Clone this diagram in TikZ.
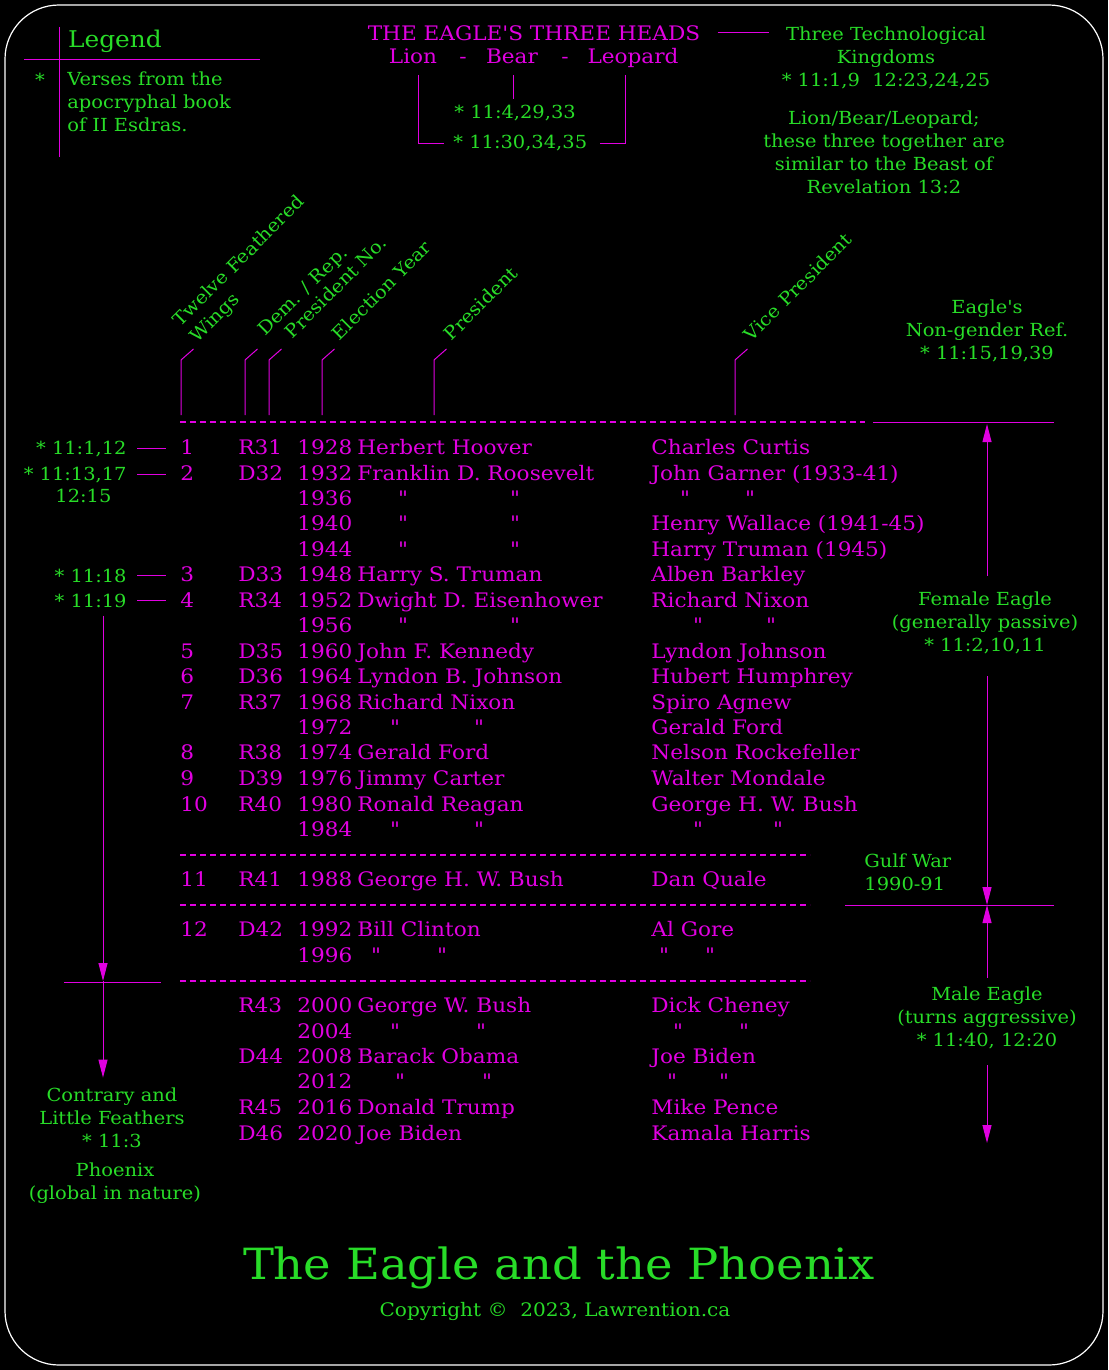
\documentclass[tikz,border=0pt]{standalone}
\usepackage{fontspec}
\setmainfont{DejaVu Serif}[Ligatures=TeXOff, FakeStretch=1.08]
\usetikzlibrary{arrows.meta}
\definecolor{eaglemag}{RGB}{225,0,225}
\definecolor{eaglegrn}{RGB}{40,220,40}

\begin{document}
\begin{tikzpicture}[x=0.5pt, y=-0.5pt,
  mag/.style={text=eaglemag, inner sep=0pt, font=\fontsize{10}{11.5}\selectfont},
  grn/.style={text=eaglegrn, inner sep=0pt, font=\fontsize{9}{11.5}\selectfont},
  lead/.style={draw=eaglemag, line width=0.5pt},
  rowline/.style={draw=eaglemag, line width=0.9pt, dash pattern=on 3.2pt off 1.8pt},
  pointer/.style={lead, -{Triangle[length=9pt, width=4.5pt]}},
  colhead/.style={grn, rotate=45, anchor=south west, align=left},
]
  \useasboundingbox (0,0) rectangle (1108,1370);
  \fill[black] (0,0) rectangle (1108,1370);
  \draw[white, line width=0.6pt, rounded corners=27pt] (5,5) rectangle (1103,1365);

  % legend
  \draw[lead] (59,27) -- (59,157);
  \draw[lead] (24,60) -- (260,60);
  \node[grn, font=\fontsize{11.5}{14}\selectfont] (legend) at (115,41) {Legend};
  \node[grn] (star) at (40,80) {*};
  \node[grn, align=left, anchor=west] (verses) at (67,102) {Verses from the\\apocryphal book\\of II Esdras.};

  % the three heads
  \node[mag] (heads) at (534,33) {THE EAGLE'S THREE HEADS};
  \node[mag, anchor=base] (lion) at (413,64) {Lion};
  \node[mag, anchor=base] (dash1) at (463,64) {-};
  \node[mag, anchor=base] (bear) at (512,64) {Bear};
  \node[mag, anchor=base] (dash2) at (565,64) {-};
  \node[mag, anchor=base] (leopard) at (633,64) {Leopard};
  \node[grn, anchor=west] (vA) at (454,113) {* 11:4,29,33};
  \node[grn, anchor=west] (vB) at (453,143) {* 11:30,34,35};
  \coordinate (lionfoot) at (418,75);
  \coordinate (bearfoot) at (513,75);
  \coordinate (leofoot) at (625,75);
  \draw[lead] (lionfoot) |- ([xshift=-4.5pt]vB.west);
  \draw[lead, shorten >=3pt] (bearfoot) -- (bearfoot |- vA.north);
  \draw[lead] (leofoot) |- ([xshift=6pt]vB.east);

  \node[grn, align=center] (kingdoms) at (886,58) {Three Technological\\Kingdoms\\* 11:1,9\ \ 12:23,24,25};
  \draw[lead, shorten <=8.5pt, shorten >=6pt] (heads.east) -- (heads.east -| kingdoms.west);
  \node[grn, align=center] (beast) at (884,152) {Lion/Bear/Leopard;\\these three together are\\similar to the Beast of\\Revelation 13:2};

  % column headers
  \foreach \x/\nm in {181/wing, 245/party, 269/presno, 322/year, 434/pres, 735/vice} {
    \coordinate (\nm-b) at (\x,415);
    \coordinate (\nm-t) at (\x+12.5,349);
    \draw[lead] (\nm-b) -- (\x,360) -- (\nm-t);
  }
  \node[colhead] (h-wing) at (200,347) {Twelve Feathered\\Wings};
  \node[colhead] (h-party) at (268,340) {Dem. / Rep.};
  \node[colhead] (h-presno) at (293,340) {President No.};
  \node[colhead] (h-year) at (340,342) {Election Year};
  \node[colhead] (h-pres) at (452,342) {President};
  \node[colhead] (h-vice) at (752,343) {Vice President};

  \draw[rowline] (180,422) -- (865,422);
  \draw[rowline] (180,855) -- (810,855);
  \draw[rowline] (180,905) -- (810,905);
  \draw[rowline] (180,981) -- (810,981);

  % table rows
  \foreach \y/\num/\party/\yr/\pres/\vp [count=\i] in {
    448/1/R31/1928/Herbert Hoover/Charles Curtis,
    474/2/D32/1932/Franklin D. Roosevelt/John Garner (1933-41),
    499///1936//,
    524///1940//Henry Wallace (1941-45),
    550///1944//Harry Truman (1945),
    575/3/D33/1948/Harry S. Truman/Alben Barkley,
    601/4/R34/1952/Dwight D. Eisenhower/Richard Nixon,
    626///1956//,
    652/5/D35/1960/John F. Kennedy/Lyndon Johnson,
    677/6/D36/1964/Lyndon B. Johnson/Hubert Humphrey,
    703/7/R37/1968/Richard Nixon/Spiro Agnew,
    728///1972//Gerald Ford,
    753/8/R38/1974/Gerald Ford/Nelson Rockefeller,
    779/9/D39/1976/Jimmy Carter/Walter Mondale,
    805/10/R40/1980/Ronald Reagan/George H. W. Bush,
    830///1984//,
    880/11/R41/1988/George H. W. Bush/Dan Quale,
    930/12/D42/1992/Bill Clinton/Al Gore,
    956///1996//,
    1006//R43/2000/George W. Bush/Dick Cheney,
    1032///2004//,
    1057//D44/2008/Barack Obama/Joe Biden,
    1082///2012//,
    1108//R45/2016/Donald Trump/Mike Pence,
    1134//D46/2020/Joe Biden/Kamala Harris} {
    \node[mag, anchor=base west] (num\i) at (180,\y+6) {\num};
    \node[mag, anchor=base west] (party\i) at (238,\y+6) {\party};
    \node[mag, anchor=base west] (yr\i) at (297,\y+6) {\yr};
    \node[mag, anchor=base west] (pres\i) at (357,\y+6) {\pres};
    \node[mag, anchor=base west] (vp\i) at (651,\y+6) {\vp};
  }
  % ditto marks
  \foreach \x/\y [count=\i] in {403/499, 515/499, 403/524, 515/524, 403/550, 515/550,
      403/626, 515/626, 395/728, 479/728, 395/830, 479/830, 376/956, 442/956,
      395/1032, 481/1032, 400/1082, 487/1082, 685/499, 750/499, 698/626, 771/626,
      698/830, 778/830, 664/956, 710/956, 678/1032, 744/1032, 672/1082, 724/1082}
    \node[mag, anchor=base] (ditto\i) at (\x,\y+6) {"};

  % verse references on the left
  \node[grn, anchor=base east] (ref1) at (127,454) {* 11:1,12};
  \node[grn, anchor=base east] (ref2) at (127,480) {* 11:13,17};
  \node[grn, anchor=base west] (ref2b) at (55,502) {12:15};
  \node[grn, anchor=base east] (ref3) at (127,582) {* 11:18};
  \node[grn, anchor=base east] (ref4) at (127,607) {* 11:19};
  \foreach \r/\n in {ref1/num1, ref2/num2, ref3/num6, ref4/num7}
    \draw[lead, shorten <=5pt, shorten >=7pt] (\r.east) -- (\r.east -| \n.west);

  \coordinate (lx-mid) at (103,981);
  \draw[pointer, shorten <=4pt] (ref4.south -| lx-mid) -- (lx-mid);
  \draw[lead] (64,982) -- (161,982);
  \node[grn, align=center] (contrary) at (112,1118) {Contrary and\\Little Feathers\\* 11:3};
  \draw[pointer, shorten >=5pt] (lx-mid) -- (lx-mid |- contrary.north);
  \node[grn, align=center] (phoenix) at (115,1183) {Phoenix\\(global in nature)};

  % female and male eagle
  \draw[lead] (873,422) -- (1054,422);
  \node[grn, align=center] (eref) at (987,331) {Eagle's\\Non-gender Ref.\\* 11:15,19,39};
  \coordinate (fe-top) at (987,424);
  \coordinate (gulf) at (987,905);
  \node[grn, align=center] (fem) at (985,623) {Female Eagle\\(generally passive)\\* 11:2,10,11};
  \draw[pointer, shorten <=8pt] (fem.north -| gulf) -- (fe-top);
  \draw[pointer, shorten <=11pt] (fem.south -| gulf) -- (gulf);
  \draw[lead] (845,905) -- (1054,905);
  \node[grn, align=left, anchor=west] (gulfwar) at (864,872) {Gulf War\\1990-91};
  \node[grn, align=center] (male) at (987,1018) {Male Eagle\\(turns aggressive)\\* 11:40, 12:20};
  \draw[pointer, shorten <=4.5pt] (male.north) -- (gulf);
  \coordinate (me-end) at (987,1143);
  \draw[pointer, shorten <=8pt] (male.south) -- (me-end);

  \node[text=eaglegrn, font=\fontsize{21.5}{26}\selectfont] (title) at (559,1268) {The Eagle and the Phoenix};
  \node[text=eaglegrn, font=\fontsize{9.3}{11}\selectfont] (copy) at (555,1311) {Copyright \textcopyright\ \ 2023, Lawrention.ca};
\end{tikzpicture}
\end{document}
